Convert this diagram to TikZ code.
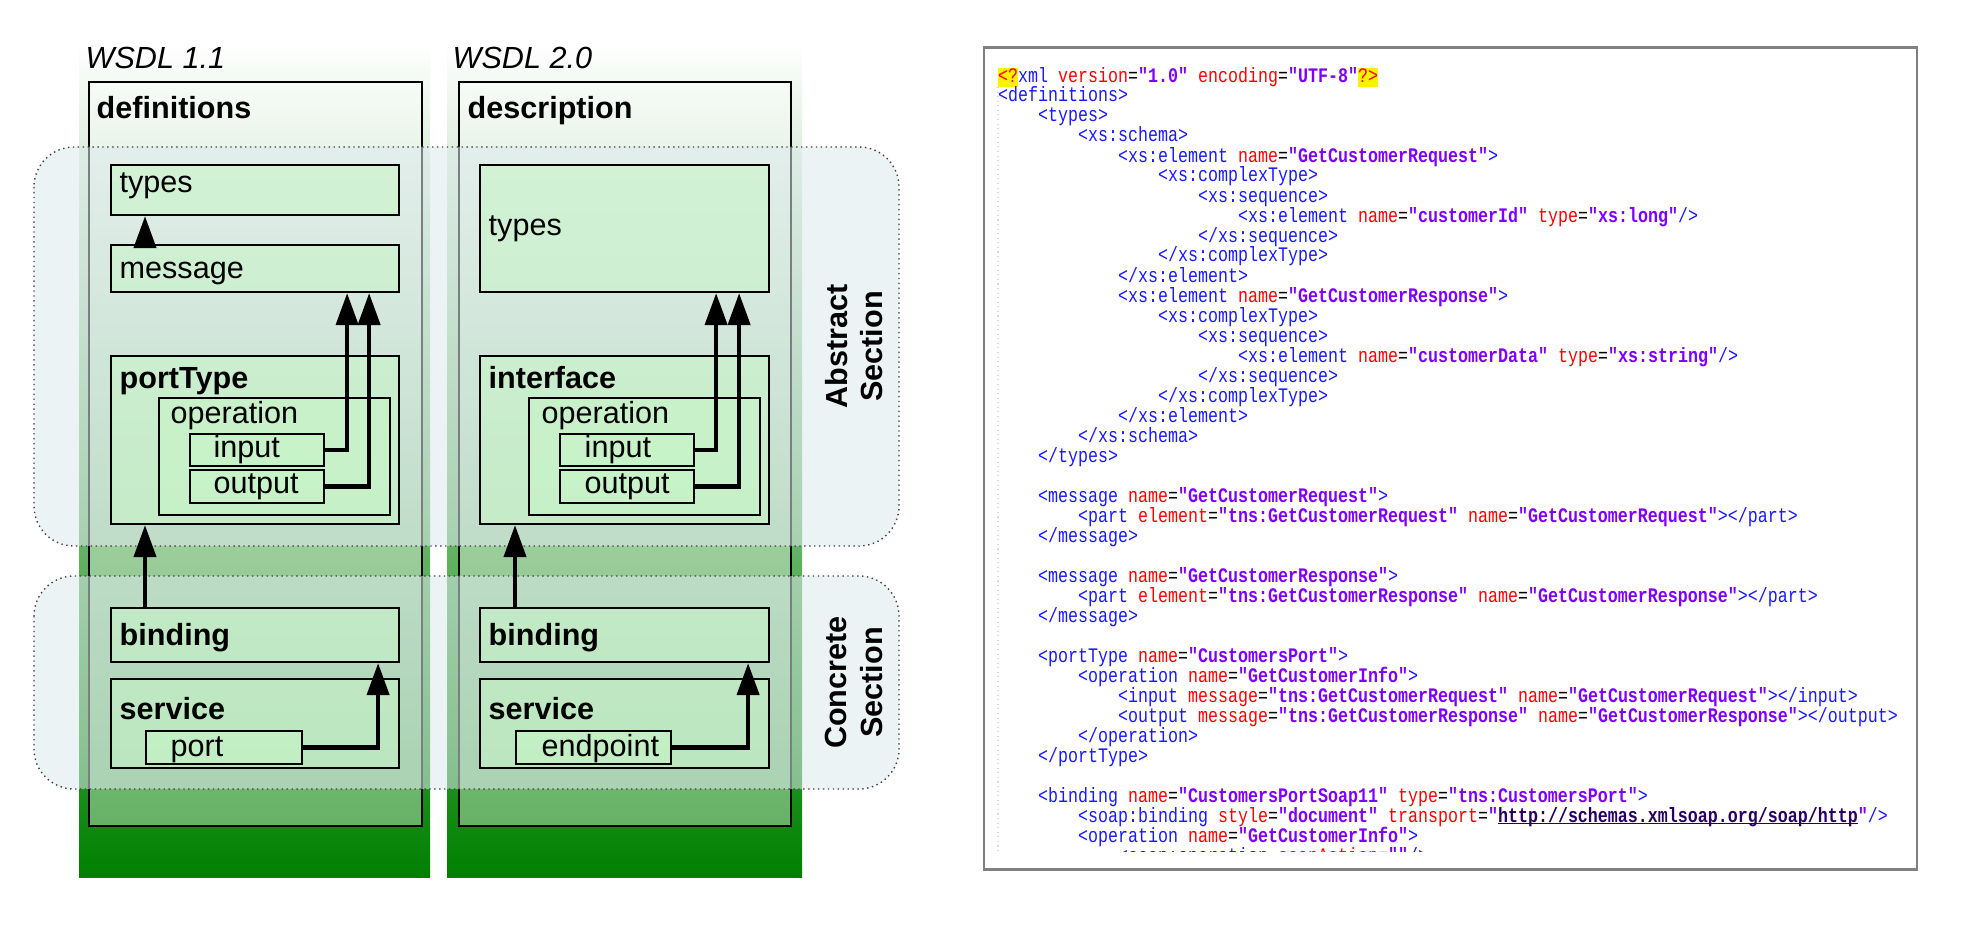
\documentclass[tikz,border=0pt]{standalone}
\usepackage{fontspec}
\setmainfont{Liberation Sans}
\setmonofont{Liberation Mono}[FakeStretch=0.806]
\usetikzlibrary{arrows.meta}
\usepackage{xcolor}

\definecolor{wgreen}{RGB}{0,128,0}
\definecolor{secfill}{RGB}{221,234,237}
\definecolor{elemfill}{RGB}{200,245,200}
\definecolor{panelgray}{RGB}{128,128,128}
\definecolor{tagblue}{RGB}{25,25,255}
\definecolor{attred}{RGB}{255,0,0}
\definecolor{valpurple}{RGB}{128,0,255}
\definecolor{urlink}{RGB}{40,0,100}

% xml colouring
\newcommand{\tg}[1]{\textcolor{tagblue}{#1}}
\newcommand{\an}[1]{\textcolor{attred}{#1}}
\newcommand{\av}[1]{\textcolor{valpurple}{\bfseries #1}}
\newcommand{\pih}[1]{{\setlength{\fboxsep}{0pt}\colorbox{yellow}{\rule[-1.42pt]{0pt}{5.4pt}\textcolor{attred}{#1}}}}
\newcommand{\lnk}[1]{\textcolor{urlink}{\bfseries\makebox[0pt][l]{\rule[-0.5pt]{3.6cm}{0.35pt}}#1}}

\begin{document}
\begin{tikzpicture}[x=1cm, y=-1cm]
    \tikzstyle{wcolumn}=[top color=white, bottom color=wgreen]
    \tikzstyle{rootbox}=[draw=black, line width=0.6pt, fill=white, fill opacity=0.36, inner sep=0pt, anchor=north west]
    \tikzstyle{zone}=[draw=black!75, densely dotted, line width=0.4pt, rounded corners=0.4cm, fill=secfill, fill opacity=0.55]
    \tikzstyle{elem}=[draw=black, line width=0.6pt, fill=elemfill, fill opacity=0.58, inner sep=0pt, anchor=north west]
    \tikzstyle{lbl}=[font=\fontsize{8.7}{10}\selectfont, anchor=base west, inner sep=0pt]
    \tikzstyle{hd}=[lbl, font=\fontsize{8.7}{10}\selectfont\bfseries]
    \tikzstyle{ver}=[lbl, font=\fontsize{8.7}{10}\selectfont\itshape]
    \tikzstyle{refarrow}=[-{Triangle[length=0.32cm, width=0.22cm]}, line width=1.2pt]
    \tikzstyle{xmlline}=[font=\ttfamily\fontsize{5.88}{7}\selectfont, anchor=base west, inner sep=0pt]

    \useasboundingbox (0,0) rectangle (19.64,9.24);

    % the two versions
    \fill[wcolumn] (0.79,0.43) rectangle (4.30,8.77);
    \fill[wcolumn] (4.47,0.43) rectangle (8.02,8.77);
    \node[rootbox, minimum width=3.33cm, minimum height=7.44cm] (defs) at (0.88,0.81) {};
    \node[rootbox, minimum width=3.32cm, minimum height=7.44cm] (desc) at (4.58,0.81) {};

    \draw[zone] (0.34,1.47) rectangle (8.99,5.46);
    \draw[zone] (0.34,5.76) rectangle (8.99,7.89);

    % WSDL 1.1
    \node[elem, minimum width=2.88cm, minimum height=0.50cm] (types1) at (1.10,1.64) {};
    \node[elem, minimum width=2.88cm, minimum height=0.47cm] (msg1) at (1.10,2.44) {};
    \node[elem, minimum width=2.88cm, minimum height=1.68cm] (pt1) at (1.10,3.55) {};
    \node[elem, minimum width=2.31cm, minimum height=1.17cm] (op1) at (1.58,3.97) {};
    \node[elem, minimum width=1.34cm, minimum height=0.32cm] (in1) at (1.89,4.33) {};
    \node[elem, minimum width=1.34cm, minimum height=0.33cm] (out1) at (1.89,4.69) {};
    \node[elem, minimum width=2.88cm, minimum height=0.54cm] (bind1) at (1.10,6.07) {};
    \node[elem, minimum width=2.88cm, minimum height=0.89cm] (svc1) at (1.10,6.78) {};
    \node[elem, minimum width=1.56cm, minimum height=0.33cm] (port1) at (1.45,7.30) {};

    % WSDL 2.0
    \node[elem, minimum width=2.89cm, minimum height=1.27cm] (types2) at (4.79,1.64) {};
    \node[elem, minimum width=2.89cm, minimum height=1.68cm] (if2) at (4.79,3.55) {};
    \node[elem, minimum width=2.31cm, minimum height=1.17cm] (op2) at (5.28,3.97) {};
    \node[elem, minimum width=1.34cm, minimum height=0.32cm] (in2) at (5.59,4.33) {};
    \node[elem, minimum width=1.34cm, minimum height=0.33cm] (out2) at (5.59,4.69) {};
    \node[elem, minimum width=2.89cm, minimum height=0.54cm] (bind2) at (4.79,6.07) {};
    \node[elem, minimum width=2.89cm, minimum height=0.89cm] (svc2) at (4.79,6.78) {};
    \node[elem, minimum width=1.55cm, minimum height=0.33cm] (ep2) at (5.15,7.30) {};

    \draw[refarrow] ([xshift=0.35cm]msg1.north west) -- ([xshift=0.35cm]types1.south west);
    \draw[refarrow] (in1.east) -| ([xshift=-0.53cm]msg1.south east);
    \draw[refarrow] (out1.east) -| ([xshift=-0.31cm]msg1.south east);
    \draw[refarrow] ([xshift=0.35cm]bind1.north west) -- ([xshift=0.35cm]pt1.south west);
    \draw[refarrow] (port1.east) -| ([xshift=-0.22cm]bind1.south east);

    \draw[refarrow] (in2.east) -| ([xshift=-0.54cm]types2.south east);
    \draw[refarrow] (out2.east) -| ([xshift=-0.31cm]types2.south east);
    \draw[refarrow] ([xshift=0.36cm]bind2.north west) -- ([xshift=0.36cm]if2.south west);
    \draw[refarrow] (ep2.east) -| ([xshift=-0.22cm]bind2.south east);

    % labels
    \node[ver] (v11) at (0.85,0.69) {WSDL 1.1};
    \node[ver] (v20) at (4.52,0.69) {WSDL 2.0};
    \node[hd] (defsT) at (0.96,1.19) {definitions};
    \node[hd] (descT) at (4.67,1.19) {description};

    \node[lbl] (types1T) at (1.19,1.93) {types};
    \node[lbl] (msg1T) at (1.19,2.78) {message};
    \node[hd] (pt1T) at (1.19,3.88) {portType};
    \node[lbl] (op1T) at (1.70,4.23) {operation};
    \node[lbl] (in1T) at (2.13,4.57) {input};
    \node[lbl] (out1T) at (2.13,4.93) {output};
    \node[hd] (bind1T) at (1.19,6.45) {binding};
    \node[hd] (svc1T) at (1.19,7.19) {service};
    \node[lbl] (port1T) at (1.70,7.56) {port};

    \node[lbl] (types2T) at (4.88,2.36) {types};
    \node[hd] (if2T) at (4.88,3.88) {interface};
    \node[lbl] (op2T) at (5.41,4.23) {operation};
    \node[lbl] (in2T) at (5.84,4.57) {input};
    \node[lbl] (out2T) at (5.84,4.93) {output};
    \node[hd] (bind2T) at (4.88,6.45) {binding};
    \node[hd] (svc2T) at (4.88,7.19) {service};
    \node[lbl] (ep2T) at (5.41,7.56) {endpoint};

    \node[hd, anchor=center, rotate=90, align=center] (absT) at (8.54,3.465) {Abstract\\Section};
    \node[hd, anchor=center, rotate=90, align=center] (conT) at (8.54,6.825) {Concrete\\Section};

    % sample document
    \node[draw=panelgray, line width=0.8pt, fill=white, inner sep=0pt, anchor=north west,
          minimum width=9.33cm, minimum height=8.22cm] (xmlbox) at (9.825,0.46) {};
    \draw[black!15, densely dotted, line width=0.3pt] (9.98,0.87) -- (9.98,8.52);

    \begin{scope}
    \clip (9.85,0.50) rectangle (19.12,8.515);
    \node[xmlline] (c1) at (9.975,0.82) {\pih{<?}\tg{xml} \an{version}=\av{"1.0"} \an{encoding}=\av{"UTF-8"}\pih{?>}};
    \node[xmlline] (c2) at (9.975,1.02) {\tg{<definitions>}};
    \node[xmlline] (c3) at (10.375,1.22) {\tg{<types>}};
    \node[xmlline] (c4) at (10.775,1.42) {\tg{<xs:schema>}};
    \node[xmlline] (c5) at (11.175,1.62) {\tg{<xs:element} \an{name}=\av{"GetCustomerRequest"}\tg{>}};
    \node[xmlline] (c6) at (11.575,1.82) {\tg{<xs:complexType>}};
    \node[xmlline] (c7) at (11.975,2.02) {\tg{<xs:sequence>}};
    \node[xmlline] (c8) at (12.375,2.22) {\tg{<xs:element} \an{name}=\av{"customerId"} \an{type}=\av{"xs:long"}\tg{/>}};
    \node[xmlline] (c9) at (11.975,2.42) {\tg{</xs:sequence>}};
    \node[xmlline] (c10) at (11.575,2.62) {\tg{</xs:complexType>}};
    \node[xmlline] (c11) at (11.175,2.82) {\tg{</xs:element>}};
    \node[xmlline] (c12) at (11.175,3.02) {\tg{<xs:element} \an{name}=\av{"GetCustomerResponse"}\tg{>}};
    \node[xmlline] (c13) at (11.575,3.22) {\tg{<xs:complexType>}};
    \node[xmlline] (c14) at (11.975,3.42) {\tg{<xs:sequence>}};
    \node[xmlline] (c15) at (12.375,3.62) {\tg{<xs:element} \an{name}=\av{"customerData"} \an{type}=\av{"xs:string"}\tg{/>}};
    \node[xmlline] (c16) at (11.975,3.82) {\tg{</xs:sequence>}};
    \node[xmlline] (c17) at (11.575,4.02) {\tg{</xs:complexType>}};
    \node[xmlline] (c18) at (11.175,4.22) {\tg{</xs:element>}};
    \node[xmlline] (c19) at (10.775,4.42) {\tg{</xs:schema>}};
    \node[xmlline] (c20) at (10.375,4.62) {\tg{</types>}};
    \node[xmlline] (c22) at (10.375,5.02) {\tg{<message} \an{name}=\av{"GetCustomerRequest"}\tg{>}};
    \node[xmlline] (c23) at (10.775,5.22) {\tg{<part} \an{element}=\av{"tns:GetCustomerRequest"} \an{name}=\av{"GetCustomerRequest"}\tg{></part>}};
    \node[xmlline] (c24) at (10.375,5.42) {\tg{</message>}};
    \node[xmlline] (c26) at (10.375,5.82) {\tg{<message} \an{name}=\av{"GetCustomerResponse"}\tg{>}};
    \node[xmlline] (c27) at (10.775,6.02) {\tg{<part} \an{element}=\av{"tns:GetCustomerResponse"} \an{name}=\av{"GetCustomerResponse"}\tg{></part>}};
    \node[xmlline] (c28) at (10.375,6.22) {\tg{</message>}};
    \node[xmlline] (c30) at (10.375,6.62) {\tg{<portType} \an{name}=\av{"CustomersPort"}\tg{>}};
    \node[xmlline] (c31) at (10.775,6.82) {\tg{<operation} \an{name}=\av{"GetCustomerInfo"}\tg{>}};
    \node[xmlline] (c32) at (11.175,7.02) {\tg{<input} \an{message}=\av{"tns:GetCustomerRequest"} \an{name}=\av{"GetCustomerRequest"}\tg{></input>}};
    \node[xmlline] (c33) at (11.175,7.22) {\tg{<output} \an{message}=\av{"tns:GetCustomerResponse"} \an{name}=\av{"GetCustomerResponse"}\tg{></output>}};
    \node[xmlline] (c34) at (10.775,7.42) {\tg{</operation>}};
    \node[xmlline] (c35) at (10.375,7.62) {\tg{</portType>}};
    \node[xmlline] (c37) at (10.375,8.02) {\tg{<binding} \an{name}=\av{"CustomersPortSoap11"} \an{type}=\av{"tns:CustomersPort"}\tg{>}};
    \node[xmlline] (c38) at (10.775,8.22) {\tg{<soap:binding} \an{style}=\av{"document"} \an{transport}=\av{"}\lnk{http://schemas.xmlsoap.org/soap/http}\av{"}\tg{/>}};
    \node[xmlline] (c39) at (10.775,8.42) {\tg{<operation} \an{name}=\av{"GetCustomerInfo"}\tg{>}};
    \node[xmlline] (c40) at (11.175,8.62) {\tg{<soap:operation} \an{soapAction}=\av{""}\tg{/>}};
    \end{scope}
\end{tikzpicture}
\end{document}
